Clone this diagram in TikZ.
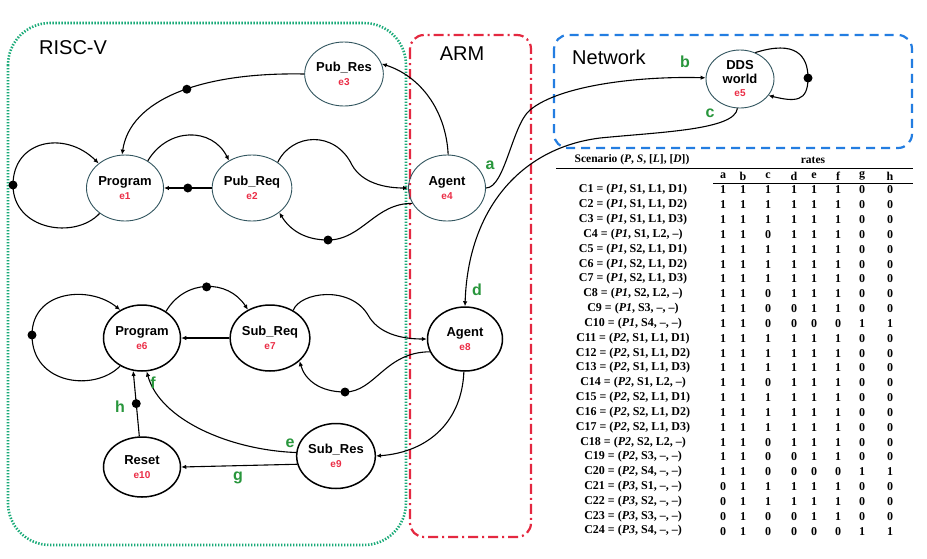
\documentclass[tikz,border=0pt]{standalone}
\usepackage{fontspec}
\setmainfont{Liberation Serif}
\setsansfont{Liberation Sans}
\usetikzlibrary{shapes.geometric,arrows.meta}
\definecolor{rvgreen}{RGB}{25,170,120}
\definecolor{armred}{RGB}{228,40,64}
\definecolor{netblue}{RGB}{35,125,225}
\definecolor{lblgreen}{RGB}{40,150,60}
\definecolor{idred}{RGB}{235,45,70}
\definecolor{topline}{RGB}{50,85,95}
\newcommand\stname[1]{{\sffamily\bfseries\fontsize{13}{15}\selectfont #1}}
\newcommand\stid[1]{{\sffamily\bfseries\fontsize{10}{12}\selectfont\color{idred}#1}}
\begin{document}
\begin{tikzpicture}[x=1pt,y=-1pt,
 st/.style={ellipse, draw=topline, line width=0.9pt, inner sep=0pt, align=center, minimum width=77pt, minimum height=66pt},
 stb/.style={st, draw=black, line width=1.5pt},
 edge/.style={draw=black, line width=1.1pt, -{Latex[length=5pt,width=4.5pt]}},
 dot/.style={circle, fill=black, inner sep=0pt, minimum size=9pt},
 lbl/.style={text=lblgreen, font=\sffamily\bfseries\fontsize{16}{16}\selectfont, inner sep=0pt},
 boxlbl/.style={font=\sffamily\fontsize{20}{20}\selectfont, inner sep=0pt},
 cell/.style={font=\bfseries\fontsize{12}{13}\selectfont, inner sep=0pt},
 headcell/.style={font=\bfseries\fontsize{11.5}{13}\selectfont, inner sep=0pt},
]
\useasboundingbox[fill=white] (0,0) rectangle (927,558);

% containers
\draw[rvgreen, line width=2.6pt, dash pattern=on 1.4pt off 1.6pt, rounded corners=42pt] (8,23) rectangle (406,545);
\draw[armred, line width=2.2pt, dash pattern=on 10pt off 4pt on 2pt off 4pt, rounded corners=14pt] (410,35) rectangle (531,537);
\draw[netblue, line width=2.2pt, dash pattern=on 9pt off 6pt, rounded corners=14pt] (554,35) rectangle (912,148);
\node[boxlbl, anchor=west] (tRV) at (39,48) {RISC-V};
\node[boxlbl] (tARM) at (462,54) {ARM};
\node[boxlbl, anchor=west] (tNet) at (572,57) {Network};

% states
\node[st] (e1) at (125,188) {\stname{Program}\\[2pt]\stid{e1}};
\node[st] (e2) at (252,188) {\stname{Pub\_Req}\\[2pt]\stid{e2}};
\node[st, minimum height=64pt] (e3) at (344,74) {\stname{Pub\_Res}\\[2pt]\stid{e3}};
\node[st] (e4) at (447,188) {\stname{Agent}\\[2pt]\stid{e4}};
\node[st, minimum width=68pt, minimum height=58pt] (e5) at (740,79) {\stname{DDS}\\[2pt]\stname{world}\\[1pt]\stid{e5}};
\node[stb] (e6) at (142,338) {\stname{Program}\\[2pt]\stid{e6}};
\node[stb, minimum width=76pt] (e7) at (270,338) {\stname{Sub\_Req}\\[2pt]\stid{e7}};
\node[stb, minimum width=75pt, minimum height=64pt] (e8) at (465,339) {\stname{Agent}\\[2pt]\stid{e8}};
\node[stb, minimum width=78pt, minimum height=65pt] (e9) at (336,456) {\stname{Sub\_Res}\\[2pt]\stid{e9}};
\node[stb, minimum height=60pt] (e10) at (142,467) {\stname{Reset}\\[2pt]\stid{e10}};

% top edges
\draw[edge] (e1.225) .. controls (75,240) and (13,230) .. (13,185) node[dot] (d1) {}
  .. controls (13,140) and (65,130) .. (e1.137);
\draw[edge] (e1.50) .. controls (168,127) and (212,127) .. (e2.130);
\draw[edge] (e2.west) -- node[dot] (d2) {} (e1.east);
\draw[edge] (e2.45) .. controls (292,133) and (335,130) .. (352,165)
  .. controls (362,183) and (385,188) .. (e4.west);
\draw[edge] (e4.204) .. controls (375,203) and (362,240) .. (328,240) node[dot] (d3) {}
  .. controls (305,240) and (290,230) .. (e2.-42);
\draw[edge] (e4.88) .. controls (446,110) and (420,76) .. (e3.15);
\draw[edge] (e3.180) .. controls (200,72) and (130,100) .. (e1.95) node[dot, pos=0.45] (d4) {};
\draw[edge] (e4.east) .. controls (505,188) and (512,125) .. (530,110)
  .. controls (560,85) and (640,76) .. (e5.178);
\draw[edge] (e5.60) .. controls (795,40) and (808,55) .. (808,78) node[dot] (d5) {}
  .. controls (808,102) and (795,102) .. (e5.-30);
\draw[edge] (e5.265) .. controls (735,130) and (660,132) .. (600,138)
  .. controls (520,148) and (468,210) .. (e8.north);

% bottom edges
\draw[edge] (e6.232) .. controls (95,392) and (32,385) .. (32,335) node[dot] (d6) {}
  .. controls (32,290) and (90,285) .. (e6.128);
\draw[edge] (e6.48) .. controls (185,279) and (228,279) .. (e7.128) node[dot, pos=0.5] (d7) {};
\draw[edge] (e7.west) -- (e6.east);
\draw[edge] (e7.50) .. controls (300,292) and (350,285) .. (368,315)
  .. controls (378,333) and (400,339) .. (e8.west);
\draw[edge] (e8.200) .. controls (385,352) and (375,392) .. (345,392) node[dot] (d8) {}
  .. controls (320,392) and (305,380) .. (e7.-38);
\draw[edge] (e8.-92) .. controls (462,420) and (430,452) .. (e9.east);
\draw[edge] (e9.175) .. controls (230,450) and (160,420) .. (e6.-82);
\draw[edge] (e9.192) -- (e10.east);
\draw[edge] (e10.95) -- node[dot] (d9) {} (e6.-105);

% rate labels
\node[lbl] (la) at (490,165) {a};
\node[lbl] (lb) at (685,62) {b};
\node[lbl] (lc) at (710,113) {c};
\node[lbl] (ld) at (477,290) {d};
\node[lbl] (le) at (290,443) {e};
\node[lbl] (lf) at (153,383) {f};
\node[lbl] (lg) at (238,478) {g};
\node[lbl] (lh) at (120,407) {h};

% table
\node[headcell] (th1) at (632,160) {Scenario (\textit{P}, \textit{S}, [\textit{L}], [\textit{D}])};
\node[headcell] (th2) at (813,160) {rates};
\draw[line width=1pt] (556,168) -- (913,168);
\foreach \c/\cx in {a/723,b/743,c/768,d/794,e/814,f/838,g/862,h/890}{
  \node[cell] (col\c) at (\cx,176) {\c};
}
\draw[line width=1pt] (713,183) -- (913,183);
\foreach \lab/\vals [count=\i] in {
 {C1 = (\textit{P1}, S1, L1, D1)}/{1,1,1,1,1,1,0,0},
 {C2 = (\textit{P1}, S1, L1, D2)}/{1,1,1,1,1,1,0,0},
 {C3 = (\textit{P1}, S1, L1, D3)}/{1,1,1,1,1,1,0,0},
 {C4 = (\textit{P1}, S1, L2, --)}/{1,1,0,1,1,1,0,0},
 {C5 = (\textit{P1}, S2, L1, D1)}/{1,1,1,1,1,1,0,0},
 {C6 = (\textit{P1}, S2, L1, D2)}/{1,1,1,1,1,1,0,0},
 {C7 = (\textit{P1}, S2, L1, D3)}/{1,1,1,1,1,1,0,0},
 {C8 = (\textit{P1}, S2, L2, --)}/{1,1,0,1,1,1,0,0},
 {C9 = (\textit{P1}, S3, --, --)}/{1,1,0,0,1,1,0,0},
 {C10 = (\textit{P1}, S4, --, --)}/{1,1,0,0,0,0,1,1},
 {C11 = (\textit{P2}, S1, L1, D1)}/{1,1,1,1,1,1,0,0},
 {C12 = (\textit{P2}, S1, L1, D2)}/{1,1,1,1,1,1,0,0},
 {C13 = (\textit{P2}, S1, L1, D3)}/{1,1,1,1,1,1,0,0},
 {C14 = (\textit{P2}, S1, L2, --)}/{1,1,0,1,1,1,0,0},
 {C15 = (\textit{P2}, S2, L1, D1)}/{1,1,1,1,1,1,0,0},
 {C16 = (\textit{P2}, S2, L1, D2)}/{1,1,1,1,1,1,0,0},
 {C17 = (\textit{P2}, S2, L1, D3)}/{1,1,1,1,1,1,0,0},
 {C18 = (\textit{P2}, S2, L2, --)}/{1,1,0,1,1,1,0,0},
 {C19 = (\textit{P2}, S3, --, --)}/{1,1,0,0,1,1,0,0},
 {C20 = (\textit{P2}, S4, --, --)}/{1,1,0,0,0,0,1,1},
 {C21 = (\textit{P3}, S1, --, --)}/{0,1,1,1,1,1,0,0},
 {C22 = (\textit{P3}, S2, --, --)}/{0,1,1,1,1,1,0,0},
 {C23 = (\textit{P3}, S3, --, --)}/{0,1,0,0,1,1,0,0},
 {C24 = (\textit{P3}, S4, --, --)}/{0,1,0,0,0,0,1,1}}{
  \pgfmathsetmacro\ry{190+(\i-1)*14.83}
  \node[cell] (r\i) at (633,\ry) {\lab};
  \foreach \v [count=\j] in \vals {
    \pgfmathsetmacro\cx{{723,743,768,794,814,838,862,890}[\j-1]}
    \node[cell] (v\i-\j) at (\cx,\ry) {\v};
  }
}
\end{tikzpicture}
\end{document}
